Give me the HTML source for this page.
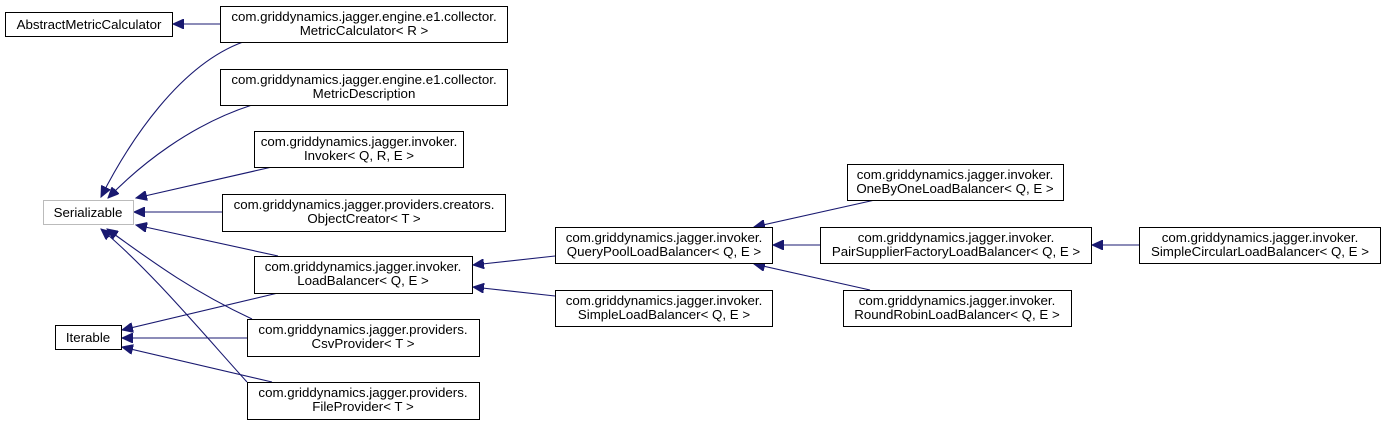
<!DOCTYPE html>
<html><head><meta charset="utf-8"><style>
html,body{margin:0;padding:0;background:#fff;}
svg{display:block;}
text{font-family:"Liberation Sans",Arial,sans-serif;font-size:13.3px;fill:#000;text-anchor:middle;}
rect{fill:#fff;stroke:#000;stroke-width:1;}
path,line{stroke:#191970;stroke-width:1.1;fill:none;}
</style></head><body>
<svg width="1385" height="425" viewBox="0 0 1385 425" xmlns="http://www.w3.org/2000/svg">
<defs>
<marker id="a" markerUnits="userSpaceOnUse" markerWidth="12" markerHeight="10" refX="11" refY="5" orient="auto">
<path d="M0,0 L11,5 L0,10 Z" style="fill:#191970;stroke:#191970;stroke-width:1"/>
</marker>
</defs>
<g marker-end="url(#a)">
<path d="M220,24 L173,24"/>
<path d="M243,42 C180,65 130,140 101,197"/>
<path d="M252,105 C190,125 140,165 108,198"/>
<path d="M272,167 L136,198"/>
<path d="M222,212 L134,212"/>
<path d="M278,256 L136,225"/>
<path d="M252,319 C190,290 150,260 107,229"/>
<path d="M247,382 C200,330 150,270 101,229"/>
<path d="M278,293 L122,330"/>
<path d="M247,338 L122,338"/>
<path d="M272,382 L122,347"/>
<path d="M555,256 L473,265"/>
<path d="M555,296 L473,287"/>
<path d="M875,200 L754,227"/>
<path d="M820,245 L773,245"/>
<path d="M870,290 L754,264"/>
<path d="M1139,245 L1092,245"/>
</g>
<rect x="5.5" y="12.5" width="167" height="24"/><text x="89" y="29">AbstractMetricCalculator</text>
<rect x="220.5" y="6.5" width="287" height="36"/><text x="364" y="21">com.griddynamics.jagger.engine.e1.collector.</text><text x="364" y="35">MetricCalculator&lt; R &gt;</text>
<rect x="220.5" y="69.5" width="287" height="36"/><text x="364" y="84">com.griddynamics.jagger.engine.e1.collector.</text><text x="364" y="98">MetricDescription</text>
<rect x="254.5" y="131.5" width="209" height="36"/><text x="359" y="146">com.griddynamics.jagger.invoker.</text><text x="359" y="160">Invoker&lt; Q, R, E &gt;</text>
<rect x="43.5" y="200.5" width="90" height="24" style="stroke:#bbb"/><text x="88" y="217">Serializable</text>
<rect x="222.5" y="194.5" width="283" height="37"/><text x="364" y="209">com.griddynamics.jagger.providers.creators.</text><text x="364" y="223">ObjectCreator&lt; T &gt;</text>
<rect x="254.5" y="256.5" width="218" height="37"/><text x="363" y="271">com.griddynamics.jagger.invoker.</text><text x="363" y="285">LoadBalancer&lt; Q, E &gt;</text>
<rect x="55.5" y="325.5" width="66" height="24"/><text x="88" y="342">Iterable</text>
<rect x="247.5" y="319.5" width="232" height="37"/><text x="363" y="334">com.griddynamics.jagger.providers.</text><text x="363" y="348">CsvProvider&lt; T &gt;</text>
<rect x="247.5" y="382.5" width="232" height="37"/><text x="363" y="397">com.griddynamics.jagger.providers.</text><text x="363" y="411">FileProvider&lt; T &gt;</text>
<rect x="555.5" y="227.5" width="217" height="36"/><text x="664" y="242">com.griddynamics.jagger.invoker.</text><text x="664" y="256">QueryPoolLoadBalancer&lt; Q, E &gt;</text>
<rect x="555.5" y="290.5" width="217" height="36"/><text x="664" y="305">com.griddynamics.jagger.invoker.</text><text x="664" y="319">SimpleLoadBalancer&lt; Q, E &gt;</text>
<rect x="847.5" y="164.5" width="216" height="36"/><text x="955" y="179">com.griddynamics.jagger.invoker.</text><text x="955" y="193">OneByOneLoadBalancer&lt; Q, E &gt;</text>
<rect x="820.5" y="227.5" width="271" height="36"/><text x="956" y="242">com.griddynamics.jagger.invoker.</text><text x="956" y="256">PairSupplierFactoryLoadBalancer&lt; Q, E &gt;</text>
<rect x="843.5" y="290.5" width="228" height="36"/><text x="957" y="305">com.griddynamics.jagger.invoker.</text><text x="957" y="319">RoundRobinLoadBalancer&lt; Q, E &gt;</text>
<rect x="1139.5" y="227.5" width="241" height="36"/><text x="1260" y="242">com.griddynamics.jagger.invoker.</text><text x="1260" y="256">SimpleCircularLoadBalancer&lt; Q, E &gt;</text>
</svg>
</body></html>
